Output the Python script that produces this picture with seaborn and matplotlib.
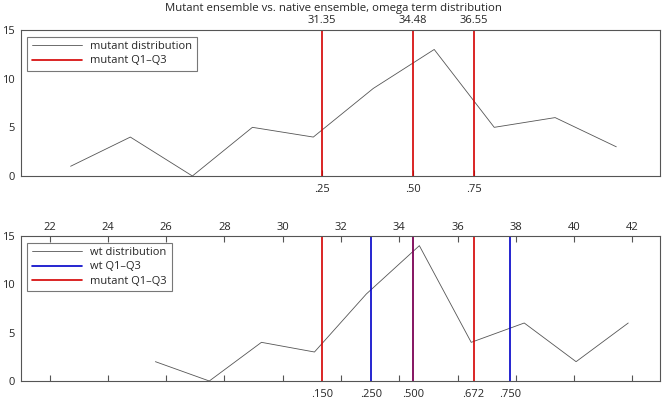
import matplotlib
matplotlib.use('Agg')
import matplotlib.pyplot as plt
import seaborn as sns
import pandas as pd

# mutant histogram (bin centres, counts)
mut_x = [22.72, 24.77, 26.90, 28.96, 31.05, 33.11, 35.20, 37.26, 39.35, 41.45]
mut_count = [1, 4, 0, 5, 4, 9, 13, 5, 6, 3]
# wt histogram
wt_x = [25.63, 27.48, 29.27, 31.09, 32.87, 34.69, 36.47, 38.29, 40.07, 41.86]
wt_count = [2, 0, 4, 3, 9, 14, 4, 6, 2, 6]

mut_q = [31.35, 34.48, 36.55]
mut_q_labels = ['31.35', '34.48', '36.55']
mut_q_frac = ['.25', '.50', '.75']
wt_q = [33.03, 34.48, 37.81]
wt_pct_pos = [31.35, 33.03, 34.48, 36.55, 37.81]
wt_pct_labels = ['.150', '.250', '.500', '.672', '.750']
scale_ticks = list(range(22, 43, 2))

mut_df = pd.DataFrame({'x': mut_x, 'n': mut_count})
wt_df = pd.DataFrame({'x': wt_x, 'n': wt_count})

sns.set_style('ticks')
plt.rcParams['font.family'] = ['Open Sans', 'DejaVu Sans']
plt.rcParams['font.size'] = 8

RED = '#d40000'
BLUE = '#0000c8'
GRAY = '#555555'
AX = '#555555'
FS = 8

fig = plt.figure(figsize=(6.63, 4), dpi=100)
W = (660 - 20.5) / 663
ax1 = fig.add_axes([20.5 / 663, 1 - 176 / 400, W, 146 / 400])
ax2 = fig.add_axes([20.5 / 663, 1 - 381 / 400, W, 145 / 400])

def style(ax):
    ax.set_xlim(21, 42.95)
    ax.set_ylim(0, 15)
    ax.set_yticks([0, 5, 10, 15])
    for s in ax.spines.values():
        s.set_color(AX)
        s.set_linewidth(0.8)
    ax.tick_params(axis='both', direction='in', length=4, width=0.8,
                   color=AX, labelsize=FS, pad=6)
    ax.tick_params(axis='y', length=0, pad=4)
    ax.set_xlabel('')
    ax.set_ylabel('')

# top panel
sns.lineplot(data=mut_df, x='x', y='n', color=GRAY, lw=0.6, ax=ax1,
             label='mutant distribution')
for i, q in enumerate(mut_q):
    ax1.axvline(q, color=RED, lw=1.2, label='mutant Q1\u2013Q3' if i == 0 else None)
style(ax1)
ax1.set_xticks(mut_q)
ax1.set_xticklabels(mut_q_frac)
sec1 = ax1.secondary_xaxis('top')
sec1.set_xticks(mut_q)
sec1.set_xticklabels(mut_q_labels)
sec1.tick_params(direction='in', length=0, labelsize=FS, pad=3)
sec1.spines['top'].set_visible(False)
leg1 = ax1.legend(loc='upper left', fancybox=False, edgecolor='#777777',
                  fontsize=FS, handlelength=4.5, borderaxespad=0.6,
                  labelspacing=0.3, framealpha=1)
leg1.get_frame().set_linewidth(0.8)

# bottom panel
sns.lineplot(data=wt_df, x='x', y='n', color=GRAY, lw=0.6, ax=ax2,
             label='wt distribution')
ax2.axvline(wt_q[0], color=BLUE, lw=1.2, label='wt Q1\u2013Q3')
ax2.axvline(wt_q[2], color=BLUE, lw=1.2)
for i, q in enumerate(mut_q):
    ax2.axvline(q, color=RED, lw=1.2, label='mutant Q1\u2013Q3' if i == 0 else None)
ax2.axvline(wt_q[1], color=BLUE, lw=1.2, alpha=0.45)
style(ax2)
ax2.set_xticks(wt_pct_pos)
ax2.set_xticklabels(wt_pct_labels)
ax2.tick_params(axis='x', which='major', length=0)
ax2.set_xticks(scale_ticks, minor=True)
ax2.tick_params(axis='x', which='minor', direction='in', length=4, width=0.8,
                color=AX)
sec2 = ax2.secondary_xaxis('top')
sec2.set_xticks(scale_ticks)
sec2.set_xticklabels([str(t) for t in scale_ticks])
sec2.tick_params(direction='in', length=4, width=0.8, color=AX,
                 labelsize=FS, pad=2)
sec2.spines['top'].set_visible(False)
leg2 = ax2.legend(loc='upper left', fancybox=False, edgecolor='#777777',
                  fontsize=FS, handlelength=4.5, borderaxespad=0.6,
                  labelspacing=0.3, framealpha=1)
leg2.get_frame().set_linewidth(0.8)

fig.text(333 / 663, 1 - 9 / 400,
         'Mutant ensemble vs. native ensemble, omega term distribution',
         ha='center', va='center', fontsize=8.2)

fig.savefig('out.png', dpi=100)
